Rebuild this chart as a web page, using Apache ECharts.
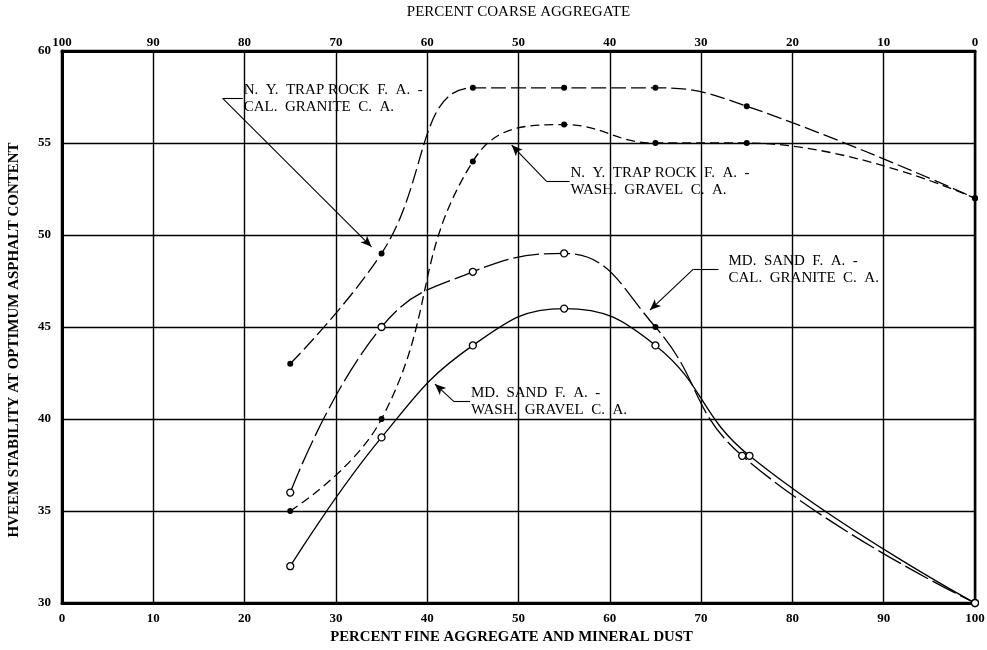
<!DOCTYPE html>
<html>
<head>
<meta charset="utf-8">
<script src="https://cdn.jsdelivr.net/npm/echarts@6/dist/echarts.min.js"></script>
<style>
  html, body { margin: 0; padding: 0; background: #fff; }
  #chart { width: 987px; height: 650px; }
</style>
</head>
<body>
<div id="chart"></div>
<script>
// Percent fine aggregate and mineral dust for each test mix
const fineAggregate      = [25, 35, 45, 55, 65, 75, 100];
const fineAggregateMdCal = [25, 35, 45, 55, 65, 74.5, 100];
const fineAggregateMdWash= [25, 35, 45, 55, 65, 75.3, 100];

// Hveem stability at optimum asphalt content
const nyTrapCalGranite  = [43, 49, 58, 58, 58, 57, 52];
const nyTrapWashGravel  = [35, 40, 54, 56, 55, 55, 52];
const mdSandCalGranite  = [36, 45, 48, 49, 45, 38, 30];
const mdSandWashGravel  = [32, 39, 44, 46, 44, 38, 30];

// Axis ranges and ticks
const xTicks = [0, 10, 20, 30, 40, 50, 60, 70, 80, 90, 100];
const yTicks = [30, 35, 40, 45, 50, 55, 60];

// Curve captions (lines of text) and leader lines in data units
const captionNyCal  = ['N.  Y.  TRAP ROCK  F.  A.  -', 'CAL.  GRANITE  C.  A.'];
const captionNyWash = ['N.  Y.  TRAP ROCK  F.  A.  -', 'WASH.  GRAVEL  C.  A.'];
const captionMdCal  = ['MD.  SAND  F.  A.  -', 'CAL.  GRANITE  C.  A.'];
const captionMdWash = ['MD.  SAND  F.  A.  -', 'WASH.  GRAVEL  C.  A.'];
const anchorNyCal  = [19.9, 57.42];
const anchorNyWash = [55.7, 52.9];
const anchorMdCal  = [73.0, 48.14];
const anchorMdWash = [44.8, 40.94];
const leaderNyCal  = [[19.8, 57.42], [17.6, 57.42], [33.9, 49.36]];
const leaderNyWash = [[55.6, 52.9], [53.1, 52.9], [49.25, 54.89]];
const leaderMdCal  = [[71.9, 48.14], [69.15, 48.14], [64.4, 45.92]];
const leaderMdWash = [[44.7, 40.94], [42.94, 40.94], [40.85, 41.9]];

const SERIF = '"Liberation Serif", "DejaVu Serif", serif';

function pairs(xs, ys) { return xs.map((x, i) => [x, ys[i]]); }

function leaderLines(pts) {
  return [
    [{ coord: pts[0], symbol: 'none' }, { coord: pts[1], symbol: 'none' }],
    [{ coord: pts[1], symbol: 'none' }, { coord: pts[2], symbol: 'arrow' }]
  ];
}

function caption(anchor, lines) {
  return {
    silent: true,
    symbol: 'rect',
    symbolSize: 0,
    data: [{ coord: anchor }],
    label: {
      show: true,
      position: 'right',
      distance: 0,
      formatter: lines.join('\n'),
      color: '#000',
      fontFamily: SERIF,
      fontSize: 15,
      lineHeight: 17
    }
  };
}

function curve(name, data, dash, filled, anchor, lines, leader) {
  return {
    name: name,
    type: 'line',
    xAxisIndex: 0,
    yAxisIndex: 0,
    data: data,
    smooth: 0.45,
    symbol: 'circle',
    symbolSize: filled ? 6 : 7,
    showSymbol: true,
    itemStyle: filled
      ? { color: '#000', borderWidth: 0 }
      : { color: '#fff', borderColor: '#000', borderWidth: 1.3 },
    lineStyle: { color: '#000', width: 1.3, type: dash },
    emphasis: { disabled: true },
    markLine: {
      silent: true,
      symbol: ['none', 'none'],
      symbolSize: [7, 11],
      label: { show: false },
      lineStyle: { color: '#000', width: 1.1, type: 'solid' },
      data: leaderLines(leader)
    },
    markPoint: caption(anchor, lines),
    z: 3
  };
}

// Md. Sand / Cal. Granite has one solid point at 65 percent
const mdCalData = pairs(fineAggregateMdCal, mdSandCalGranite).map((p, i) =>
  i === 4 ? { value: p, symbolSize: 6, itemStyle: { color: '#000', borderWidth: 0 } } : p);

const chart = echarts.init(document.getElementById('chart'), null, { renderer: 'canvas' });

const tickFont = { color: '#000', fontFamily: SERIF, fontWeight: 'bold', fontSize: 13 };

chart.setOption({
  animation: false,
  backgroundColor: '#fff',
  grid: {
    left: 62, right: 12, top: 51, bottom: 47,
    show: true, borderColor: '#000', borderWidth: 2.5,
    outerBoundsMode: 'none'
  },
  xAxis: [
    {
      type: 'value', position: 'bottom',
      min: xTicks[0], max: xTicks[xTicks.length - 1], interval: 10,
      name: 'PERCENT FINE AGGREGATE AND MINERAL DUST',
      nameLocation: 'middle', nameGap: 27,
      nameTextStyle: { color: '#000', fontFamily: SERIF, fontWeight: 'bold', fontSize: 14.8, padding: [0, 14, 0, 0] },
      axisLine: { show: true, lineStyle: { color: '#000', width: 3 } },
      axisTick: { show: false },
      axisLabel: Object.assign({ margin: 9 }, tickFont),
      splitLine: { show: true, lineStyle: { color: '#000', width: 1.4 } }
    },
    {
      type: 'value', position: 'top', inverse: true,
      min: xTicks[0], max: xTicks[xTicks.length - 1], interval: 10,
      name: 'PERCENT COARSE AGGREGATE',
      nameLocation: 'middle', nameGap: 31,
      nameTextStyle: { color: '#000', fontFamily: SERIF, fontSize: 15 },
      axisLine: { show: true, lineStyle: { color: '#000', width: 3 } },
      axisTick: { show: false },
      axisLabel: Object.assign({ margin: 2 }, tickFont),
      splitLine: { show: false }
    }
  ],
  yAxis: {
    type: 'value',
    min: yTicks[0], max: yTicks[yTicks.length - 1], interval: 5,
    name: 'HVEEM STABILITY AT OPTIMUM ASPHALT CONTENT',
    nameLocation: 'middle', nameGap: 40, nameRotate: 90,
    nameTextStyle: { color: '#000', fontFamily: SERIF, fontWeight: 'bold', fontSize: 15, padding: [0, 26, 0, 0] },
    axisLine: { show: true, lineStyle: { color: '#000', width: 3 } },
    axisTick: { show: false },
    axisLabel: Object.assign({ margin: 11 }, tickFont),
    splitLine: { show: true, lineStyle: { color: '#000', width: 1.4 } }
  },
  series: [
    curve('N. Y. Trap Rock F. A. - Cal. Granite C. A.',
      pairs(fineAggregate, nyTrapCalGranite), [15, 5], true,
      anchorNyCal, captionNyCal, leaderNyCal),
    curve('N. Y. Trap Rock F. A. - Wash. Gravel C. A.',
      pairs(fineAggregate, nyTrapWashGravel), [9, 5], true,
      anchorNyWash, captionNyWash, leaderNyWash),
    curve('Md. Sand F. A. - Cal. Granite C. A.',
      mdCalData, [26, 5], false,
      anchorMdCal, captionMdCal, leaderMdCal),
    curve('Md. Sand F. A. - Wash. Gravel C. A.',
      pairs(fineAggregateMdWash, mdSandWashGravel), 'solid', false,
      anchorMdWash, captionMdWash, leaderMdWash)
  ]
});
</script>
</body>
</html>
